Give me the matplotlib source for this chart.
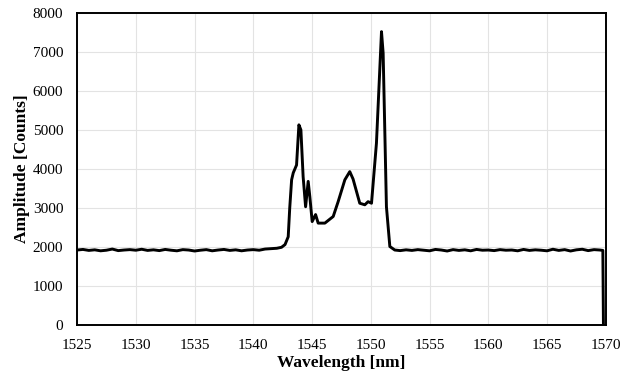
import numpy as np
import matplotlib.pyplot as plt

plt.rcParams['font.family'] = ['Liberation Serif', 'DejaVu Serif']

# baseline before the peaks
wl_left = [1525, 1525.5, 1526, 1526.5, 1527, 1527.5, 1528, 1528.5, 1529, 1529.5,
           1530, 1530.5, 1531, 1531.5, 1532, 1532.5, 1533, 1533.5, 1534, 1534.5,
           1535, 1535.5, 1536, 1536.5, 1537, 1537.5, 1538, 1538.5, 1539, 1539.5,
           1540, 1540.5, 1541, 1541.5, 1542, 1542.4]
amp_left = [1920, 1935, 1910, 1925, 1900, 1915, 1945, 1905, 1920, 1930,
            1915, 1940, 1910, 1925, 1905, 1935, 1915, 1900, 1930, 1920,
            1895, 1915, 1930, 1900, 1920, 1935, 1910, 1925, 1900, 1920,
            1930, 1915, 1945, 1955, 1965, 1990]

# emission peaks
wl_peak = [1542.7, 1542.97, 1543.1, 1543.26, 1543.4, 1543.68, 1543.88, 1544.05,
           1544.24, 1544.45, 1544.67, 1544.81, 1545.01, 1545.3, 1545.52, 1546.09,
           1546.8, 1547.22, 1547.79, 1548.21, 1548.49, 1549.06, 1549.49, 1549.77,
           1550.06, 1550.48, 1550.91, 1551.05, 1551.33, 1551.62, 1552.04]
amp_peak = [2060, 2260, 3000, 3720, 3900, 4100, 5130, 5000,
            3800, 3030, 3680, 3290, 2650, 2830, 2610, 2610,
            2780, 3160, 3720, 3930, 3740, 3120, 3080, 3160,
            3120, 4660, 7520, 6970, 3030, 2010, 1920]

# baseline after the peaks
wl_right = [1552.5, 1553, 1553.5, 1554, 1554.5, 1555, 1555.5, 1556, 1556.5, 1557,
            1557.5, 1558, 1558.5, 1559, 1559.5, 1560, 1560.5, 1561, 1561.5, 1562,
            1562.5, 1563, 1563.5, 1564, 1564.5, 1565, 1565.5, 1566, 1566.5, 1567,
            1567.5, 1568, 1568.5, 1569, 1569.5, 1569.75, 1569.8]
amp_right = [1905, 1925, 1910, 1930, 1915, 1900, 1935, 1920, 1895, 1930,
             1910, 1925, 1900, 1935, 1915, 1920, 1905, 1930, 1915, 1920,
             1900, 1935, 1910, 1925, 1915, 1900, 1940, 1910, 1930, 1895,
             1925, 1940, 1905, 1930, 1920, 1910, 0]

wl = wl_left + wl_peak + wl_right
amp = amp_left + amp_peak + amp_right

fig = plt.figure(figsize=(6.37, 3.8), dpi=100)
ax = fig.add_axes([0.121, 0.145, 0.830, 0.821])
ax.plot(wl, amp, color='black', lw=2.1, solid_joinstyle='round')

ax.set_xlim(1525, 1570)
ax.set_ylim(0, 8000)
ax.set_xticks(np.arange(1525, 1571, 5))
ax.set_yticks(np.arange(0, 8001, 1000))
ax.grid(True, color='#e3e3e3', lw=0.8)
ax.set_axisbelow(True)
ax.tick_params(length=0, labelsize=11, pad=10)
for s in ax.spines.values():
    s.set_color('black')
    s.set_linewidth(1.4)

ax.set_xlabel("Wavelength [nm]", fontsize=12.5, fontweight='bold', labelpad=2)
ax.set_ylabel("Amplitude [Counts]", fontsize=12.5, fontweight='bold', labelpad=2)

plt.savefig("out.png", dpi=100)
